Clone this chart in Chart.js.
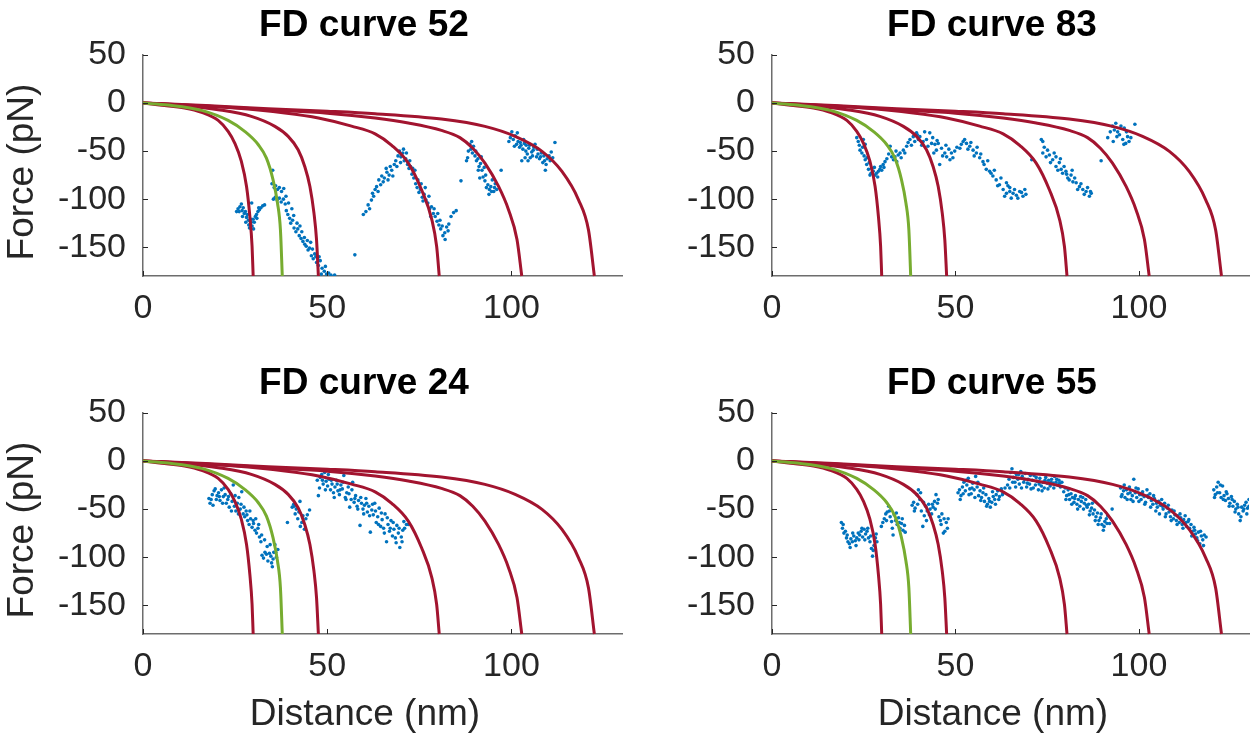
<!DOCTYPE html>
<html>
<head>
<meta charset="utf-8">
<title>FD curves</title>
<script src="https://cdn.jsdelivr.net/npm/chart.js@4.4.1/dist/chart.umd.min.js"></script>
<style>
  html, body { margin: 0; padding: 0; background: #fff; }
  #wrap { position: relative; width: 1253px; height: 736px; overflow: hidden; }
  canvas { position: absolute; }
</style>
</head>
<body>
<div id="wrap">
  <canvas id="fd52" width="630" height="360" style="left:0;top:0"></canvas>
  <canvas id="fd83" width="623" height="360" style="left:630px;top:0"></canvas>
  <canvas id="fd24" width="630" height="376" style="left:0;top:360px"></canvas>
  <canvas id="fd55" width="623" height="376" style="left:630px;top:360px"></canvas>
</div>
<script>
// axis ticks and labels
const distTicks = [0, 50, 100];
const forceTicks = [-150, -100, -50, 0, 50];
const xAxisLabel = 'Distance (nm)';
const yAxisLabel = 'Force (pN)';

// WLC fit curves [distance nm, force pN], same set in every panel
const fitL30 = [[0,0],[5,-2.2],[11.3,-5.2],[15.9,-9.7],[20.4,-18.1],[23.1,-29.5],[24.9,-41.7],[26.7,-60.8],[28.1,-86.8],[29.0,-118],[29.6,-149],[29.9,-180]];
const fitL38 = [[0,0],[6.8,-2.1],[15.9,-7.6],[23.1,-18.1],[27.6,-29.5],[31.3,-43.4],[33.5,-57.3],[35.3,-79.9],[36.5,-104],[37.3,-132],[37.8,-180]];
const fitL48 = [[0,0],[11.3,-2.8],[20.4,-6.9],[29.4,-13.9],[35.8,-24.3],[39.4,-34.7],[42.1,-48.6],[43.9,-66.0],[45.3,-86.8],[46.4,-114.6],[47.1,-142.4],[47.6,-180]];
const fitL81 = [[0,0],[12,-2.4],[24.9,-5.2],[38.5,-10.4],[47.6,-15.6],[56.6,-24],[63.0,-32],[67.5,-44],[72.0,-62.5],[75.6,-90.3],[78.4,-121.5],[79.7,-149.3],[80.4,-180]];
const fitL103 = [[0,0],[17,-3],[34,-6.9],[50,-10.5],[63,-15.6],[72,-20.8],[81,-28.5],[86,-36],[89.5,-47],[92.8,-62.5],[96.5,-86.8],[99.2,-111],[101.5,-142],[102.8,-180]];
const fitL123 = [[0,0],[17,-2.5],[34,-5.9],[50,-8.5],[63,-11.1],[81,-16.7],[92.8,-24.3],[101,-34.7],[108.3,-50.3],[113.7,-71.2],[118.2,-100.7],[120.9,-132],[122.5,-180]];

// measured force-distance points
const fd52 = [
  [25.4,-113],[25.8,-110],[26.3,-108],[26.7,-105],[26.9,-112],[27.2,-109],[27.5,-115],[27.8,-113],[28.1,-119],[28.3,-116],[28.6,-122],[28.9,-130],[29.1,-126],[29.4,-124],[29.6,-128],[29.9,-121],[30.2,-124],[30.5,-118],[30.8,-116],[31.2,-113],[31.6,-111],[32.0,-109],[32.5,-107],[33.0,-106],
  [26.1,-113],[27.0,-118],[27.9,-124],[28.7,-127],[29.3,-121],[30.0,-131],[30.9,-120],[31.4,-109],[29.5,-104],
  [35.2,-70],[35.0,-84],[35.6,-88],[36.0,-86],[36.5,-90],[37.0,-88],[37.6,-92],[38.2,-89],[35.4,-100],[35.9,-98],[36.4,-101],[37.0,-99],[37.5,-103],[38.1,-100],[38.6,-105],[38.9,-112],[39.3,-116],[39.8,-120],[40.1,-125],[40.6,-122],[41.0,-130],[41.5,-134],[42.0,-131],[42.4,-138],[42.9,-141],[43.4,-144],[43.8,-140],[44.3,-149],[44.8,-153],[45.2,-151],[45.7,-159],[46.2,-162],[46.6,-157],[47.1,-166],[47.6,-169],[48.1,-164],[48.6,-172],[49.2,-175],[49.8,-178],[50.4,-177],[51.0,-179],
  [38.8,-97],[39.5,-104],[40.4,-110],[40.9,-117],[41.8,-125],[42.6,-128],[43.1,-134],[43.9,-147],[44.6,-143],[45.5,-145],[46.0,-152],[46.9,-160],[47.8,-160],[48.4,-178],[49.5,-170],[52.0,-179],
  [57.5,-158],
  [59.8,-116],[60.5,-113],[61.1,-106],[62.0,-101],[62.6,-97],[63.0,-90],[63.4,-87],[64.0,-80],[64.8,-76],[65.5,-78],[66.2,-72],[66.8,-75],[67.5,-70],[68.2,-64],[68.6,-60],[69.2,-55],[69.6,-50],[70.0,-56],[70.5,-52],[70.9,-60],[71.3,-58],[71.8,-64],[72.2,-68],[72.6,-66],[73.0,-74],[73.5,-78],[74.0,-84],[74.4,-88],[74.9,-93],[75.3,-90],[75.8,-98],[76.3,-95],[76.8,-101],[77.3,-104],[77.8,-110],[78.3,-108],[78.8,-115],[79.3,-118],[79.8,-123],[80.3,-127],[80.8,-131],[81.4,-138],[81.9,-135],[82.4,-129],[83.0,-126],[84.3,-114],
  [61.5,-110],[62.3,-94],[63.8,-92],[64.5,-85],[65.2,-82],[66.0,-68],[66.5,-80],[67.1,-66],[67.8,-76],[68.9,-66],[69.9,-62],[70.7,-48],[71.5,-52],[72.4,-60],[73.2,-68],[73.8,-70],[74.6,-80],[75.5,-84],[76.0,-102],[76.6,-88],[77.6,-97],[78.1,-118],[79.0,-110],[80.0,-115],[80.6,-122],[81.2,-128],[82.0,-142],[82.8,-133],[83.6,-118],[85.0,-112],
  [86.3,-81],[87.8,-60],[88.1,-57],[88.7,-43],[89.0,-48],[89.4,-52],[89.7,-45],[90.1,-55],[90.5,-60],[90.9,-58],[91.2,-66],[91.6,-63],[92.0,-70],[92.3,-77],[92.8,-81],[93.2,-88],[93.6,-85],[94.0,-90],[94.4,-87],[94.8,-80],[95.2,-92],[95.6,-84],[96.0,-90],[97.2,-70],
  [88.3,-50],[89.2,-40],[90.3,-50],[91.0,-70],[91.8,-56],[92.6,-67],[93.0,-75],[93.9,-95],[94.6,-92],[95.4,-88],[91.4,-78],
  [99.3,-40],[99.7,-36],[100.1,-30],[100.5,-38],[101.0,-34],[101.4,-43],[101.8,-40],[102.2,-46],[102.6,-44],[102.8,-60],[103.1,-48],[103.5,-42],[103.9,-50],[104.3,-53],[104.7,-47],[105.1,-57],[105.5,-51],[105.9,-49],[106.4,-43],[106.8,-56],[107.2,-53],[107.6,-58],[108.1,-52],[108.5,-62],[109.0,-60],[109.2,-70],[109.7,-58],[110.2,-55],[110.8,-51],[111.8,-41],
  [100.8,-45],[101.6,-31],[102.4,-41],[103.3,-38],[104.0,-44],[104.9,-44],[105.7,-55],[106.1,-46],[107.0,-48],[107.9,-56],[108.8,-55],[109.4,-64],[110.5,-60],[111.2,-57],[103.7,-57],[104.5,-60]
];
const fd83 = [
  [23.1,-36],[23.5,-40],[24.0,-49],[24.5,-52],[24.9,-38],[25.4,-43],[25.4,-59],[25.8,-64],[26.3,-69],[26.7,-75],[27.2,-68],[27.6,-71],[28.1,-75],[28.5,-73],[29.0,-71],[29.4,-69],[29.6,-66],[30.3,-64],[30.8,-61],
  [23.8,-44],[24.7,-46],[25.1,-55],[25.9,-57],[26.5,-62],[27.0,-73],[27.9,-67],[28.8,-77],[29.9,-70],[30.5,-67],[31.3,-58],[31.8,-53],
  [32.2,-45],[32.6,-56],[33.1,-59],[33.5,-56],[34.0,-61],[34.4,-54],[34.9,-52],[35.8,-49],[36.7,-45],[37.6,-38],[38.5,-35],[39.4,-31],[39.9,-38],[40.3,-35],[41.2,-40],[42.1,-38],[43.0,-31],[43.5,-42],[44.4,-43],[44.8,-49],[45.3,-42],[45.7,-64],[46.2,-47],[47.1,-52],[47.6,-56],[48.5,-59],[48.9,-52],[49.8,-50],
  [33.8,-50],[35.2,-57],[36.2,-52],[37.1,-41],[38.0,-44],[38.9,-40],[39.6,-33],[40.8,-44],[41.6,-30],[42.5,-45],[43.8,-36],[44.1,-52],[45.0,-39],[46.5,-55],[47.4,-44],[48.2,-48],[49.3,-57],[50.4,-46],
  [51.2,-47],[52.1,-40],[53.0,-42],[53.9,-45],[54.8,-49],[55.7,-52],[56.6,-57],[57.5,-61],[58.4,-69],[59.3,-71],[60.2,-76],[61.1,-80],[62.0,-85],[63.0,-90],[63.9,-94],[64.8,-92],[63.9,-83],[64.8,-88],[65.7,-94],[66.6,-96],[67.5,-92],[68.4,-97],[68.9,-90],
  [51.6,-43],[52.5,-38],[53.4,-48],[54.2,-41],[55.1,-55],[55.9,-46],[56.9,-53],[57.8,-64],[58.8,-60],[59.7,-73],[60.6,-70],[61.5,-86],[62.4,-78],[63.4,-97],[64.3,-86],[65.2,-99],[66.1,-90],[67.0,-99],[68.0,-93],[69.2,-95],
  [70.8,-59],[73.4,-38],[73.8,-40],[73.8,-52],[74.7,-56],[75.6,-54],[76.5,-59],[77.4,-56],[77.4,-66],[78.3,-62],[78.8,-69],[79.2,-73],[80.1,-71],[80.6,-78],[81.5,-75],[82.0,-82],[82.9,-83],[83.8,-87],[84.7,-90],[85.6,-92],[86.5,-97],[87.0,-94],
  [74.2,-46],[75.1,-49],[75.9,-62],[76.9,-52],[77.9,-70],[78.6,-58],[79.6,-66],[80.3,-74],[81.0,-80],[81.8,-70],[82.5,-78],[83.3,-90],[84.2,-84],[85.1,-95],[86.0,-88],[86.8,-92],
  [89.7,-60],
  [91.5,-36],[92.8,-24],[93.7,-21],[94.2,-30],[94.7,-33],[95.6,-38],[96.0,-26],[96.4,-42],[96.9,-35],[97.3,-40],[98.9,-22],
  [92.2,-30],[93.3,-28],[94.0,-35],[95.1,-24],[95.9,-43],[96.6,-30],[97.8,-36],[93.0,-40]
];
const fd24 = [
  [17.9,-39],[18.2,-44],[18.8,-35],[19.3,-31],[19.6,-29],[20.1,-36],[20.5,-33],[20.9,-41],[21.3,-30],[21.8,-37],[22.3,-35],[22.6,-44],[23.0,-40],[23.4,-48],[23.8,-34],[24.2,-42],[24.5,-25],[24.8,-47],[25.2,-52],[25.6,-44],[26.0,-38],[26.4,-50],[26.8,-32],[27.2,-55],[27.6,-58],[28.0,-52],[28.4,-62],[28.8,-66],[29.2,-60],[29.6,-69],[30.0,-65],[30.4,-72],[30.8,-75],[31.2,-70],[31.6,-79],[32.0,-84],[32.3,-98],[32.7,-101],[33.1,-95],[33.5,-97],[33.9,-104],[34.3,-96],[34.7,-99],[35.1,-110],[35.5,-95],[35.8,-87],[36.2,-100],[36.6,-92],
  [18.5,-40],[19.0,-46],[19.9,-40],[20.7,-37],[21.6,-44],[22.0,-28],[23.2,-37],[24.0,-52],[25.0,-36],[25.9,-55],[26.6,-45],[27.4,-48],[28.2,-56],[29.0,-52],[29.9,-62],[30.6,-60],[31.4,-66],[32.2,-77],[33.0,-82],[33.7,-89],[34.5,-87],[35.3,-102],[36.0,-95],[34.9,-106],
  [39.2,-64],[40.5,-48],[40.9,-45],[41.3,-55],[41.6,-50],[42.0,-60],[42.3,-53],[42.7,-68],[43.1,-64],[43.4,-57],[43.8,-71],[44.2,-60],[44.6,-56],[45.2,-51],[42.6,-42],[41.0,-47],
  [47.3,-20],[47.6,-36],[48.1,-17],[48.5,-14],[48.9,-24],[49.3,-12],[49.7,-21],[50.1,-26],[50.5,-19],[50.9,-30],[51.3,-24],[51.7,-33],[52.1,-27],[52.5,-20],[52.9,-31],[53.3,-35],[53.7,-25],[54.1,-29],[54.5,-15],[54.9,-38],[55.3,-33],[55.7,-27],[56.1,-48],[56.5,-40],[56.9,-22],[57.3,-43],[57.7,-36],[58.1,-47],[58.5,-41],[58.9,-67],[59.3,-44],[59.7,-50],[60.1,-46],[60.5,-39],[60.9,-53],[61.3,-47],[61.7,-74],[62.1,-51],[62.5,-56],[62.9,-44],[63.3,-64],[63.7,-58],[64.1,-49],[64.5,-68],[64.9,-61],[65.3,-70],[65.7,-55],[66.1,-84],[66.5,-66],[66.9,-73],[67.3,-62],[67.7,-78],[68.1,-71],[68.5,-80],[68.9,-67],[69.3,-75],[69.7,-90],[70.1,-79],[70.5,-72],[71.0,-70],[71.5,-66],[72.0,-66],
  [47.9,-28],[48.7,-20],[49.5,-30],[50.3,-14],[51.1,-20],[51.9,-38],[52.7,-24],[53.5,-30],[54.3,-22],[55.1,-40],[55.9,-34],[56.7,-30],[57.5,-39],[58.3,-50],[59.1,-38],[59.9,-55],[60.7,-44],[61.5,-57],[62.3,-45],[63.1,-52],[63.9,-66],[64.7,-54],[65.5,-75],[66.3,-59],[67.1,-70],[67.9,-64],[68.7,-85],[69.5,-70],[70.3,-84],[70.8,-63]
];
const fd55 = [
  [18.9,-64],[19.2,-70],[19.6,-75],[20.0,-73],[20.3,-80],[20.7,-84],[21.1,-86],[21.5,-81],[21.9,-84],[22.3,-78],[22.7,-83],[23.1,-80],[23.5,-75],[23.9,-77],[24.3,-73],[24.7,-79],[25.1,-71],[25.5,-76],[25.9,-73],[26.3,-80],[26.7,-84],[27.1,-91],[27.4,-99],[27.8,-88],[28.2,-80],[28.6,-84],
  [19.4,-66],[20.5,-77],[21.3,-90],[22.0,-75],[22.9,-88],[23.7,-82],[24.5,-70],[25.3,-82],[26.1,-70],[26.9,-78],[27.6,-93],[28.4,-76],
  [29.8,-68],[30.6,-60],[31.0,-55],[31.4,-53],[31.8,-47],[32.2,-58],[32.6,-63],[33.0,-77],[33.3,-56],[33.7,-62],[34.1,-66],[34.5,-59],[34.9,-70],[35.3,-65],[35.7,-72],[36.1,-67],
  [30.2,-64],[31.2,-62],[32.0,-52],[32.8,-70],[33.9,-54],[34.7,-64],[35.5,-60],[36.3,-74],
  [38.2,-46],[38.6,-43],[39.0,-49],[39.5,-35],[39.9,-30],[40.3,-40],[40.7,-52],[41.1,-68],[41.5,-57],[41.9,-47],[42.3,-52],[42.7,-45],[43.1,-50],[43.5,-55],[43.9,-48],[44.3,-42],[44.7,-35],[45.1,-44],[45.5,-58],[45.9,-62],[46.3,-55],[46.7,-75],[47.1,-73],[47.5,-64],[48.0,-60],
  [38.8,-52],[39.7,-45],[40.5,-33],[41.3,-43],[42.1,-62],[42.9,-56],[43.7,-45],[44.5,-50],[45.3,-40],[46.1,-66],[46.9,-60],[47.8,-70],
  [50.7,-33],[51.1,-30],[51.5,-36],[51.9,-27],[52.3,-22],[52.7,-31],[53.1,-25],[53.5,-18],[53.9,-29],[54.3,-34],[54.7,-23],[55.1,-30],[55.5,-16],[55.9,-27],[56.3,-36],[56.7,-31],[57.1,-38],[57.5,-33],[57.9,-42],[58.3,-35],[58.7,-45],[59.1,-39],[59.5,-48],[59.9,-43],[60.3,-37],[60.7,-40],[61.1,-35],[61.5,-31],[62.0,-37],[62.5,-29],[63.0,-33],[63.5,-28],
  [51.3,-40],[52.1,-34],[52.9,-20],[53.7,-35],[54.5,-28],[55.3,-38],[56.1,-22],[56.9,-41],[57.7,-28],[58.5,-47],[59.3,-42],[60.1,-32],[60.9,-45],[61.8,-40],[62.8,-35],
  [64.2,-25],[64.6,-19],[65.0,-12],[65.4,-8],[65.8,-17],[66.2,-22],[66.6,-14],[67.0,-19],[67.4,-24],[67.8,-11],[68.2,-16],[68.6,-22],[69.0,-13],[69.4,-27],[69.8,-19],[70.2,-24],[70.6,-29],[71.0,-20],[71.4,-15],[71.8,-25],[72.2,-21],[72.6,-30],[73.0,-18],[73.4,-26],[73.8,-22],[74.2,-28],[74.6,-17],[75.0,-23],[75.4,-20],[75.8,-26],[76.2,-19],[76.6,-23],[77.0,-16],[77.4,-22],[77.8,-25],[78.2,-20],[78.6,-27],[79.0,-22],
  [64.8,-28],[65.6,-22],[66.4,-27],[67.2,-14],[68.0,-28],[68.8,-19],[69.6,-23],[70.4,-15],[71.2,-28],[72.0,-17],[72.8,-24],[73.6,-31],[74.4,-20],[75.2,-29],[76.0,-22],[76.8,-28],[77.6,-19],[78.4,-23],
  [79.5,-32],[79.9,-28],[80.3,-36],[80.7,-30],[81.1,-40],[81.5,-34],[81.9,-38],[82.3,-43],[82.7,-36],[83.1,-45],[83.5,-40],[83.9,-47],[84.3,-42],[84.7,-38],[85.1,-44],[85.5,-40],[85.9,-48],[86.3,-45],[86.7,-52],[87.1,-49],[87.5,-55],[87.9,-51],[88.3,-58],[88.7,-54],[89.1,-62],[89.5,-59],[89.9,-66],[90.3,-72],[90.7,-63],[91.1,-60],[91.5,-57],[92.0,-65],[92.7,-50],
  [80.1,-40],[80.9,-35],[81.7,-45],[82.5,-39],[83.3,-50],[84.1,-37],[84.9,-50],[85.7,-46],[86.5,-56],[87.3,-44],[88.1,-62],[88.9,-66],[89.7,-55],[90.5,-68],[91.3,-65],
  [95.0,-28],[95.4,-35],[95.8,-31],[96.2,-38],[96.6,-30],[97.0,-34],[97.4,-27],[97.8,-40],[98.2,-36],[98.6,-19],[99.0,-33],[99.4,-38],[99.8,-29],[100.2,-35],[100.6,-40],[101.0,-32],[101.4,-37],[101.8,-43],[102.2,-30],[102.6,-38],[103.0,-34],[103.4,-41],[103.8,-45],[104.2,-39],[104.6,-52],[105.0,-48],[105.4,-42],[105.8,-46],[106.2,-40],[106.6,-50],[107.0,-44],[107.4,-55],[107.8,-49],[108.2,-53],[108.6,-58],[109.0,-51],[109.4,-60],[109.8,-56],[110.2,-62],[110.6,-57],[111.0,-64],[111.4,-59],[111.8,-66],[112.2,-61],[112.6,-57],[113.0,-68],[113.4,-63],[113.8,-70],[114.2,-66],[114.6,-73],[115.0,-69],[115.4,-76],[115.8,-80],[116.2,-74],[116.6,-86],[117.0,-78],[117.4,-82],[117.8,-77],
  [95.2,-37],[96.0,-25],[96.8,-40],[97.6,-33],[98.4,-42],[99.2,-28],[100.0,-42],[100.8,-35],[101.6,-45],[102.4,-36],[103.2,-48],[104.0,-36],[104.8,-44],[105.6,-55],[106.4,-47],[107.2,-58],[108.0,-46],[108.8,-62],[109.6,-52],[110.4,-66],[111.2,-55],[112.0,-70],[112.8,-64],[113.6,-61],[114.4,-78],[115.2,-72],[116.0,-83],[116.8,-73],[117.6,-88],[118.3,-79],
  [120.4,-30],[120.8,-35],[121.2,-27],[121.6,-22],[122.0,-33],[122.4,-38],[122.8,-26],[123.2,-36],[123.6,-41],[124.0,-34],[124.4,-39],[124.8,-44],[125.2,-37],[125.6,-47],[126.0,-42],[126.4,-50],[126.8,-45],[127.2,-55],[127.6,-62],[128.0,-48],[128.4,-52],[128.8,-46],[129.2,-43],[129.6,-49],[130.0,-40],
  [120.6,-38],[121.4,-33],[122.2,-25],[123.0,-40],[123.8,-32],[124.6,-47],[125.4,-40],[126.2,-53],[127.0,-48],[127.8,-58],[128.6,-50],[129.4,-55],[130.0,-47]
];

const FONT = '"Liberation Sans", Arial, Helvetica, sans-serif';
const RED = '#A2142F';
const GREEN = '#77AC30';
const BLUE = '#0072BD';
const X_AXIS_H = 60;

// plot box of each panel, in canvas pixels
const panels = [
  { id: 'fd52', title: 'FD curve 52', points: fd52, area: { left: 143, right: 622, top: 55, bottom: 276 }, titleX: 364, titleY: 36, yLabel: true, xLabel: false },
  { id: 'fd83', title: 'FD curve 83', points: fd83, area: { left: 142, right: 622, top: 55, bottom: 276 }, titleX: 362, titleY: 36, yLabel: false, xLabel: false },
  { id: 'fd24', title: 'FD curve 24', points: fd24, area: { left: 143, right: 622, top: 53, bottom: 274 }, titleX: 364, titleY: 34, yLabel: true, xLabel: true },
  { id: 'fd55', title: 'FD curve 55', points: fd55, area: { left: 142, right: 622, top: 53, bottom: 274 }, titleX: 362, titleY: 34, yLabel: false, xLabel: true }
];

const toXY = arr => arr.map(p => ({ x: p[0], y: p[1] }));

// small tick marks pointing into the plot
const inwardTicks = {
  id: 'inwardTicks',
  afterDatasetsDraw(chart) {
    const { ctx, chartArea: a, scales: { x, y } } = chart;
    ctx.save();
    ctx.strokeStyle = '#262626';
    ctx.lineWidth = 1;
    ctx.beginPath();
    x.ticks.forEach(t => {
      const px = Math.round(x.getPixelForValue(t.value)) + 0.5;
      ctx.moveTo(px, a.bottom);
      ctx.lineTo(px, a.bottom - 5);
    });
    y.ticks.forEach(t => {
      const py = Math.round(y.getPixelForValue(t.value)) + 0.5;
      ctx.moveTo(a.left, py);
      ctx.lineTo(a.left + 5, py);
    });
    ctx.stroke();
    ctx.restore();
  }
};

// panel title and axis titles
const panelText = {
  id: 'panelText',
  afterDraw(chart, args, opts) {
    const ctx = chart.ctx;
    const a = chart.chartArea;
    ctx.save();
    ctx.textAlign = 'center';
    ctx.textBaseline = 'alphabetic';
    ctx.fillStyle = '#000';
    ctx.font = 'bold 37px ' + FONT;
    ctx.fillText(opts.title, opts.titleX, opts.titleY);

    ctx.fillStyle = '#262626';
    ctx.font = '37px ' + FONT;
    if (opts.xLabel) {
      ctx.fillText(xAxisLabel, opts.titleX + 1, a.bottom + 91);
    }
    if (opts.yLabel) {
      ctx.translate(23, a.top + 117);
      ctx.rotate(-Math.PI / 2);
      ctx.textBaseline = 'middle';
      ctx.fillText(yAxisLabel, 0, 0);
    }
    ctx.restore();
  }
};

function makePanel(p) {
  const canvas = document.getElementById(p.id);
  const W = canvas.width, H = canvas.height;
  const yAxisW = p.area.left - 2;

  const fits = [
    { data: fitL38, color: GREEN },
    { data: fitL30, color: RED },
    { data: fitL48, color: RED },
    { data: fitL81, color: RED },
    { data: fitL103, color: RED },
    { data: fitL123, color: RED }
  ];

  const datasets = fits.map(f => ({
    data: toXY(f.data),
    showLine: true,
    borderColor: f.color,
    borderWidth: 3,
    pointRadius: 0,
    cubicInterpolationMode: 'monotone',
    clip: 2
  }));

  datasets.push({
    data: toXY(p.points),
    showLine: false,
    pointRadius: 1.8,
    pointStyle: 'circle',
    backgroundColor: BLUE,
    borderWidth: 0
  });

  return new Chart(canvas, {
    type: 'scatter',
    data: { datasets: datasets },
    options: {
      responsive: false,
      animation: false,
      devicePixelRatio: 1,
      layout: {
        padding: {
          left: 2,
          top: p.area.top,
          right: W - p.area.right,
          bottom: H - p.area.bottom - X_AXIS_H
        }
      },
      plugins: {
        legend: { display: false },
        tooltip: { enabled: false },
        panelText: { title: p.title, titleX: p.titleX, titleY: p.titleY, xLabel: p.xLabel, yLabel: p.yLabel }
      },
      scales: {
        x: {
          type: 'linear',
          min: 0,
          max: 130,
          afterBuildTicks: s => { s.ticks = distTicks.map(v => ({ value: v })); },
          afterFit: s => { s.height = X_AXIS_H; },
          grid: { display: false, drawTicks: false },
          border: { display: true, color: '#6d6d6d', width: 1.5 },
          ticks: { padding: 12, maxRotation: 0, color: '#262626', font: { family: FONT, size: 34 } }
        },
        y: {
          type: 'linear',
          min: -180,
          max: 50,
          afterBuildTicks: s => { s.ticks = forceTicks.map(v => ({ value: v })); },
          afterFit: s => { s.width = yAxisW; },
          grid: { display: false, drawTicks: false },
          border: { display: true, color: '#6d6d6d', width: 1.5 },
          ticks: { padding: 17, color: '#262626', font: { family: FONT, size: 34 } }
        }
      }
    },
    plugins: [inwardTicks, panelText]
  });
}

panels.forEach(makePanel);
</script>
</body>
</html>
